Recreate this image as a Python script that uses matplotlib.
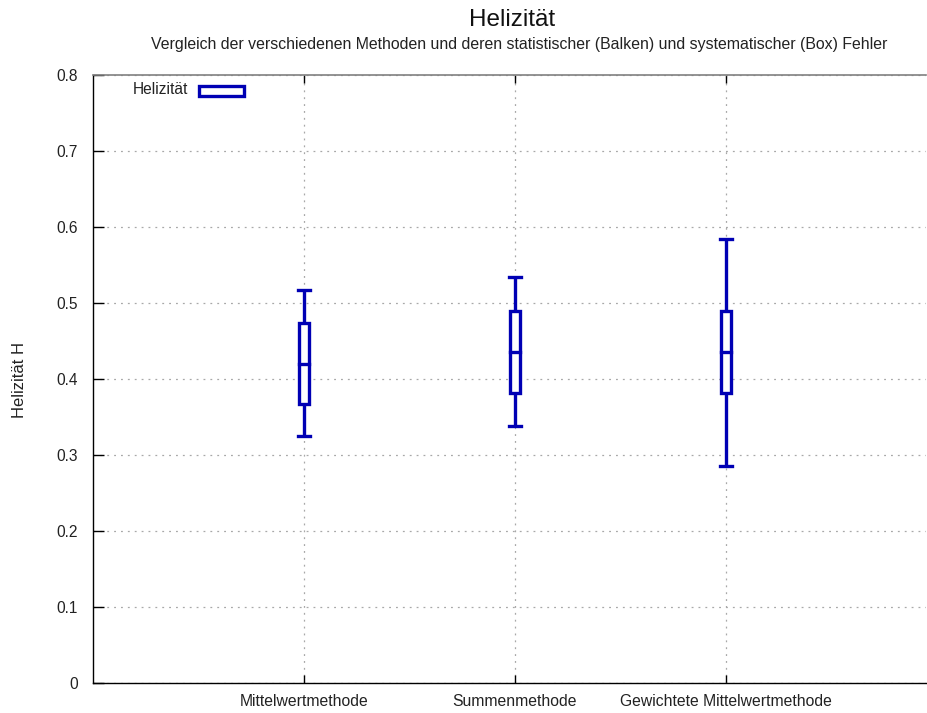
import matplotlib
matplotlib.use("Agg")
import matplotlib.pyplot as plt
from matplotlib.patches import Rectangle

plt.rcParams['font.family'] = ['Liberation Sans', 'DejaVu Sans']

categories = ["Mittelwertmethode", "Summenmethode", "Gewichtete Mittelwertmethode"]
positions = [1, 2, 3]
whisker_low = [0.325, 0.338, 0.285]
box_low = [0.367, 0.381, 0.381]
median = [0.420, 0.436, 0.436]
box_high = [0.474, 0.489, 0.489]
whisker_high = [0.517, 0.534, 0.584]
yticks = [0, 0.1, 0.2, 0.3, 0.4, 0.5, 0.6, 0.7, 0.8]
ytick_labels = ["0", "0.1", "0.2", "0.3", "0.4", "0.5", "0.6", "0.7", "0.8"]

W, H = 927, 713
fig = plt.figure(figsize=(W / 100, H / 100), dpi=100)
ax = fig.add_axes([93 / W, (H - 683) / H, (926 - 93) / W, (683 - 75) / H])

col = '#0000b4'
lw = 2.4
bw = 0.047
cw = 0.055
for x, wl, bl, m, bh, wh in zip(positions, whisker_low, box_low, median, box_high, whisker_high):
    ax.plot([x, x], [wl, bl], color=col, lw=lw, zorder=3, solid_capstyle='butt')
    ax.plot([x, x], [bh, wh], color=col, lw=lw, zorder=3, solid_capstyle='butt')
    ax.plot([x - cw / 2, x + cw / 2], [wl, wl], color=col, lw=lw, zorder=3)
    ax.plot([x - cw / 2, x + cw / 2], [wh, wh], color=col, lw=lw, zorder=3)
    ax.add_patch(Rectangle((x - bw / 2, bl), bw, bh - bl, fill=True, facecolor='white',
                           edgecolor=col, lw=lw, zorder=4))
    ax.plot([x - bw / 2, x + bw / 2], [m, m], color=col, lw=lw, zorder=5)

ax.set_xlim(0, 3.948)
ax.set_ylim(0, 0.8)
ax.set_xticks(positions)
ax.set_xticklabels(categories, fontsize=11.3, color='#222222')
ax.set_yticks(yticks)
ax.set_yticklabels(ytick_labels, fontsize=11.2, color='#222222')
ax.tick_params(axis='y', direction='in', length=8, width=1, pad=11)
ax.tick_params(axis='x', direction='in', length=6, width=1, pad=8, top=True)
ax.grid(True, color='#a8a8a8', linestyle=(0, (1.5, 4)), linewidth=0.9)
ax.set_axisbelow(True)
for s in ['left', 'bottom']:
    ax.spines[s].set_color('black')
    ax.spines[s].set_linewidth(1)
ax.spines['top'].set_color('#808080')
ax.spines['top'].set_linewidth(1.2)
ax.spines['right'].set_visible(False)

fig.text(20 / W, 1 - 380 / H, "Helizität H", rotation=90, ha='center', va='center',
         fontsize=12, color='#222222')

fig.text(512 / W, 1 - 20 / H, "Helizität", ha='center', va='center', fontsize=17.5, color='#111111')
fig.text(519 / W, 1 - 45 / H,
         "Vergleich der verschiedenen Methoden und deren statistischer (Balken) und systematischer (Box) Fehler",
         ha='center', va='center', fontsize=11.4, color='#222222')

# legend
fig.text(188 / W, 1 - 90 / H, "Helizität", ha='right', va='center', fontsize=11.2, color='#222222')
fig.patches.append(Rectangle((199 / W, 1 - 96 / H), 45 / W, 10 / H, transform=fig.transFigure,
                             facecolor='white', edgecolor=col, lw=lw, figure=fig))

fig.savefig("out.png", dpi=100)
